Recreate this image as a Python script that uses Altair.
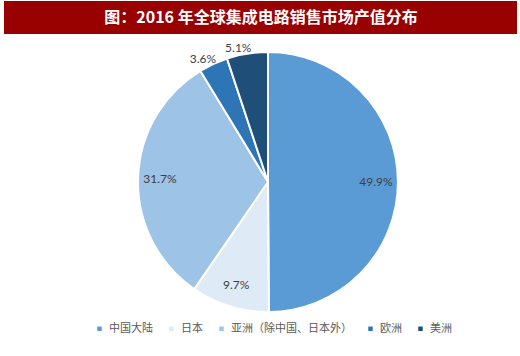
import altair as alt
import pandas as pd

title_text = "图：2016 年全球集成电路销售市场产值分布"
regions = ["中国大陆", "日本", "亚洲（除中国、日本外）", "欧洲", "美洲"]
shares = [49.9, 9.7, 31.7, 3.6, 5.1]
labels = ["49.9%", "9.7%", "31.7%", "3.6%", "5.1%"]
colors = ["#5B9BD5", "#DEEBF7", "#9DC3E6", "#2E75B6", "#1F4E79"]

df = pd.DataFrame({
    "region": regions,
    "share": shares,
    "label": labels,
    "idx": list(range(len(regions))),
})

CX, CY, R = 268, 182, 130

base = alt.Chart(df).encode(
    theta=alt.Theta("share:Q", stack=True),
    order=alt.Order("idx:Q"),
)

arcs = base.mark_arc(outerRadius=R, stroke="white", strokeWidth=2).encode(
    color=alt.Color(
        "region:N",
        scale=alt.Scale(domain=regions, range=colors),
        sort=regions,
        legend=alt.Legend(
            title=None,
            orient="none",
            legendX=94,
            legendY=323,
            direction="horizontal",
            symbolType="square",
            symbolSize=20,
            symbolStrokeWidth=0,
            labelFontSize=11,
            labelColor="#595959",
            labelFont="Noto Sans CJK SC",
            columnPadding=13,
            symbolOffset=0,
            labelOffset=4,
        ),
    ),
    x=alt.value(CX),
    y=alt.value(CY),
)

test_out = "indexof(['欧洲','美洲'], datum.region) >= 0"

inside_text = base.mark_text(radius=108, fontSize=12, font="Lato", color="#404040").encode(
    text=alt.condition(test_out, alt.value(""), alt.Text("label:N")),
    x=alt.value(CX),
    y=alt.value(CY),
)
outside_text = base.mark_text(radius=136, dx=-8, fontSize=12, font="Lato", color="#404040").encode(
    text=alt.condition(test_out, alt.Text("label:N"), alt.value("")),
    x=alt.value(CX),
    y=alt.value(CY),
)

tdf = pd.DataFrame({"t": [title_text]})
bar = alt.Chart(tdf).mark_rect(color="#990000").encode(
    x=alt.value(4), x2=alt.value(517), y=alt.value(1), y2=alt.value(34)
)
ttl = alt.Chart(tdf).mark_text(
    color="white", fontSize=16, fontWeight="bold", font="Noto Sans CJK SC", baseline="middle"
).encode(text="t:N", x=alt.value(261), y=alt.value(18))

chart = alt.layer(bar, ttl, arcs, inside_text, outside_text).properties(
    width=520, height=356, padding=0, autosize=alt.AutoSizeParams(type="none"),
    background="white",
).configure_view(stroke=None)

chart.save("out.html", embed_options={"renderer": "svg", "actions": False})
